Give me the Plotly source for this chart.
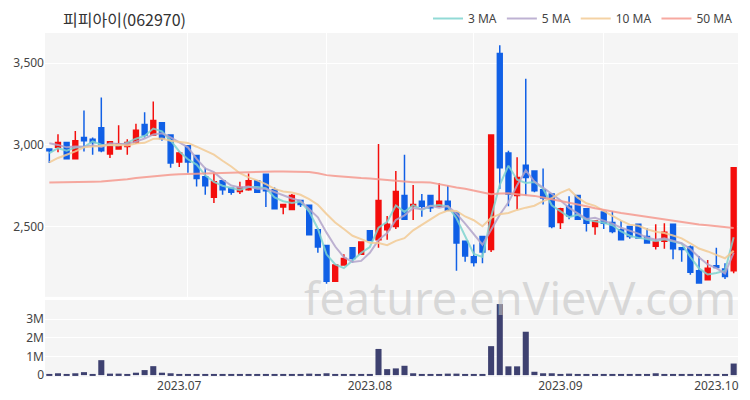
import plotly.graph_objects as go

dates = (
    ["2023-06-%02d" % d for d in [12, 13, 14, 15, 16, 19, 20, 21, 22, 23, 26, 27, 28, 29, 30]]
    + ["2023-07-%02d" % d for d in [3, 4, 5, 6, 7, 10, 11, 12, 13, 14, 17, 18, 19, 20, 21, 24, 25, 26, 27, 28, 31]]
    + ["2023-08-%02d" % d for d in [1, 2, 3, 4, 7, 8, 9, 10, 11, 14, 16, 17, 18, 21, 22, 23, 24, 25, 28, 29, 30, 31]]
    + ["2023-09-%02d" % d for d in [1, 4, 5, 6, 7, 8, 11, 12, 13, 14, 15, 18, 19, 20, 21, 22, 25, 26, 27]]
    + ["2023-10-%02d" % d for d in [4, 5, 6]]
)

opens = [2975, 2985, 3015, 2915, 3045, 3035, 3105, 2945, 2975, 2990,
         3015, 3125, 3060, 3135, 3060, 2895, 2995, 2935, 2805, 2680,
         2780, 2735, 2715, 2725, 2780, 2820, 2725, 2620, 2605, 2660,
         2630, 2480, 2385, 2165, 2265, 2370, 2330, 2475, 2420, 2480,
         2500, 2690, 2625, 2655, 2690, 2625, 2655, 2585, 2410, 2315,
         2440, 2360, 3560, 2950, 2690, 2875, 2840, 2725, 2700, 2525,
         2625, 2690, 2610, 2500, 2590, 2525, 2480, 2500, 2515, 2440,
         2380, 2410, 2515, 2370, 2375, 2230, 2175, 2260, 2240, 2230]
highs = [2980, 3065, 3020, 3085, 3210, 3045, 3290, 3020, 3120, 3035,
         3130, 3200, 3265, 3135, 3060, 2960, 2995, 2935, 2860, 2830,
         2780, 2735, 2775, 2825, 2780, 2820, 2740, 2635, 2700, 2660,
         2630, 2490, 2385, 2270, 2330, 2370, 2410, 2475, 3005, 2565,
         2840, 2940, 2755, 2700, 2690, 2765, 2750, 2585, 2410, 2390,
         2440, 3060, 3610, 2965, 2925, 3405, 2840, 2855, 2700, 2615,
         2685, 2690, 2610, 2535, 2590, 2595, 2535, 2500, 2515, 2490,
         2515, 2520, 2515, 2370, 2385, 2320, 2295, 2370, 2275, 2860]
lows = [2890, 2955, 2910, 2915, 2960, 2940, 2955, 2920, 2975, 2940,
        3005, 3045, 3060, 3025, 2860, 2865, 2830, 2745, 2695, 2645,
        2695, 2695, 2700, 2720, 2705, 2620, 2610, 2575, 2600, 2620,
        2450, 2340, 2150, 2165, 2260, 2280, 2330, 2410, 2370, 2420,
        2485, 2545, 2540, 2560, 2590, 2625, 2600, 2230, 2285, 2255,
        2275, 2345, 2730, 2625, 2605, 2690, 2710, 2635, 2490, 2485,
        2545, 2545, 2470, 2450, 2485, 2460, 2420, 2425, 2425, 2400,
        2360, 2365, 2300, 2285, 2205, 2150, 2170, 2245, 2180, 2215]
closes = [2965, 3015, 2915, 3025, 3025, 3015, 2965, 3020, 3005, 3015,
          3090, 3060, 3150, 3040, 2890, 2950, 2895, 2795, 2750, 2775,
          2725, 2710, 2740, 2780, 2710, 2720, 2610, 2635, 2690, 2635,
          2450, 2375, 2165, 2265, 2305, 2305, 2405, 2415, 2660, 2515,
          2715, 2545, 2635, 2625, 2615, 2655, 2600, 2400, 2320, 2280,
          2345, 3060, 2860, 2700, 2800, 2800, 2720, 2675, 2500, 2610,
          2565, 2545, 2520, 2535, 2520, 2470, 2420, 2440, 2430, 2400,
          2405, 2465, 2365, 2360, 2220, 2155, 2245, 2250, 2195, 2860]

ma3 = [2950, 2980, 2965, 2984, 2987, 3021, 3001, 3001, 2997, 3014,
       3038, 3055, 3100, 3083, 3027, 2960, 2912, 2880, 2814, 2773,
       2750, 2736, 2724, 2742, 2742, 2735, 2679, 2655, 2645, 2653,
       2592, 2487, 2330, 2268, 2246, 2293, 2339, 2375, 2493, 2529,
       2629, 2590, 2631, 2602, 2626, 2632, 2623, 2551, 2440, 2333,
       2314, 2561, 2755, 2873, 2787, 2767, 2773, 2732, 2631, 2595,
       2558, 2573, 2542, 2532, 2524, 2508, 2470, 2444, 2431, 2424,
       2412, 2423, 2411, 2396, 2314, 2244, 2207, 2216, 2230, 2435]
ma5 = [3010, 3000, 2985, 2990, 2988, 2998, 2988, 3010, 3006, 3005,
       3020, 3039, 3064, 3071, 3046, 3017, 2985, 2914, 2856, 2833,
       2788, 2751, 2739, 2746, 2732, 2731, 2711, 2691, 2672, 2658,
       2605, 2557, 2463, 2378, 2313, 2284, 2290, 2340, 2419, 2460,
       2541, 2569, 2614, 2607, 2627, 2615, 2626, 2579, 2518, 2451,
       2389, 2480, 2573, 2649, 2753, 2844, 2776, 2739, 2699, 2661,
       2614, 2579, 2547, 2554, 2536, 2518, 2493, 2477, 2457, 2433,
       2419, 2428, 2413, 2398, 2363, 2312, 2268, 2246, 2213, 2341]
ma10 = [2893, 2920, 2940, 2960, 2985, 2990, 2995, 3000, 3000, 2997,
        3009, 3013, 3037, 3039, 3025, 3019, 3012, 2989, 2964, 2940,
        2903, 2868, 2827, 2801, 2783, 2760, 2731, 2715, 2709, 2695,
        2668, 2634, 2577, 2525, 2485, 2444, 2423, 2401, 2399, 2386,
        2413, 2429, 2477, 2513, 2544, 2578, 2598, 2596, 2562, 2539,
        2502, 2553, 2576, 2583, 2602, 2616, 2628, 2656, 2674, 2707,
        2729, 2677, 2643, 2627, 2599, 2566, 2536, 2512, 2505, 2484,
        2468, 2461, 2445, 2428, 2398, 2366, 2348, 2329, 2306, 2352]
ma50 = [2770, 2770, 2771, 2772, 2772, 2774, 2776, 2780, 2785, 2790,
        2797, 2803, 2810, 2814, 2818, 2820, 2822, 2824, 2825, 2827,
        2830, 2832, 2834, 2836, 2837, 2838, 2838, 2838, 2837, 2836,
        2834, 2826, 2815, 2810, 2805, 2800, 2797, 2795, 2790, 2784,
        2778, 2774, 2772, 2771, 2770, 2760, 2749, 2740, 2732, 2720,
        2708, 2698, 2702, 2704, 2698, 2693, 2688, 2678, 2668, 2657,
        2647, 2635, 2624, 2612, 2601, 2592, 2583, 2575, 2567, 2559,
        2551, 2544, 2536, 2528, 2520, 2513, 2508, 2503, 2497, 2492]

volumes = [30000, 100000, 50000, 100000, 160000, 40000, 800000, 80000, 80000, 30000,
           130000, 270000, 480000, 130000, 100000, 30000, 30000, 30000, 20000, 20000,
           20000, 20000, 20000, 20000, 20000, 20000, 20000, 20000, 30000, 30000,
           80000, 30000, 100000, 20000, 20000, 20000, 20000, 20000, 1400000, 320000,
           360000, 500000, 100000, 50000, 30000, 60000, 80000, 80000, 20000, 20000,
           20000, 1550000, 3800000, 470000, 470000, 2320000, 180000, 100000, 100000, 60000,
           80000, 30000, 20000, 30000, 20000, 40000, 30000, 20000, 20000, 20000,
           100000, 50000, 50000, 50000, 50000, 50000, 30000, 30000, 20000, 620000]

title_text = "피피아이(062970)"
ma_names = ["3 MA", "5 MA", "10 MA", "50 MA"]
ma_colors = ["#7fd4cf", "#b3a5cb", "#f2ca94", "#f69a8f"]
month_idx = [15, 37, 59, 77]
month_labels = ["2023.07", "2023.08", "2023.09", "2023.10"]
grid_idx = [16, 32, 49, 64]

fig = go.Figure()
fig.add_trace(go.Candlestick(
    x=dates, open=opens, high=highs, low=lows, close=closes,
    increasing=dict(line=dict(color="#f4100e", width=1.5), fillcolor="#f4100e"),
    decreasing=dict(line=dict(color="#1261e6", width=1.5), fillcolor="#1261e6"),
    whiskerwidth=0, showlegend=False, xaxis="x", yaxis="y", hoverinfo="skip"))

for name, vals, col in zip(ma_names, [ma3, ma5, ma10, ma50], ma_colors):
    fig.add_trace(go.Scatter(x=dates, y=vals, mode="lines", name=name,
                             line=dict(color=col, width=2), opacity=0.85,
                             xaxis="x", yaxis="y"))

fig.add_trace(go.Bar(x=dates, y=volumes, marker=dict(color="#3e4170", line=dict(width=0)),
                     showlegend=False, xaxis="x2", yaxis="y2"))

axis_font = dict(family="Noto Sans, Lato, sans-serif", size=12, color="#444")
fig.update_layout(
    width=750, height=400,
    margin=dict(l=45, r=12, t=33, b=23, autoexpand=False),
    paper_bgcolor="white", plot_bgcolor="#f5f5f5",
    bargap=0.3, boxgap=0.2,
    title=dict(text=title_text, x=63 / 750, xanchor="left", xref="container",
               y=1 - 20 / 400, yanchor="middle", yref="container",
               font=dict(family="Noto Sans CJK KR", size=16, color="#333")),
    legend=dict(orientation="h", x=1.0, xanchor="right", y=1.0, yanchor="bottom",
                font=dict(family="Noto Sans, sans-serif", size=12, color="#444"),
                bgcolor="rgba(0,0,0,0)", itemwidth=30),
    xaxis=dict(type="category", domain=[0, 1], anchor="y", range=[-0.5, len(dates) - 0.5],
               rangeslider=dict(visible=False), showticklabels=False,
               tickmode="array", tickvals=[dates[i] for i in grid_idx],
               showgrid=True, gridcolor="white", gridwidth=1, zeroline=False, ticks=""),
    yaxis=dict(domain=[0.233, 1.0], range=[2070, 3685], tickvals=[2500, 3000, 3500],
               tickformat=",", showgrid=True, gridcolor="white", gridwidth=1,
               zeroline=False, tickfont=axis_font, ticks="", ticklen=0),
    xaxis2=dict(type="category", domain=[0, 1], anchor="y2", range=[-0.5, len(dates) - 0.5],
                tickmode="array", tickvals=[dates[i] for i in month_idx], ticktext=month_labels,
                showgrid=False, zeroline=False, tickfont=axis_font, ticks=""),
    yaxis2=dict(domain=[0, 0.224], range=[-100000, 4020000],
                tickvals=[0, 1000000, 2000000, 3000000], ticktext=["0", "1M", "2M", "3M"],
                showgrid=True, gridcolor="white", zeroline=False, tickfont=axis_font, ticks=""),
)

fig.add_annotation(text="feature.enVievV.com", xref="paper", yref="paper",
                   x=0.685, y=0.23, xanchor="center", yanchor="middle", showarrow=False,
                   font=dict(family="Noto Sans, sans-serif", size=45, color="rgba(195,195,195,0.6)"))

fig.write_html("out.html", config={"displayModeBar": False},
               post_script="document.body.style.margin='0';document.body.style.overflow='hidden';")
